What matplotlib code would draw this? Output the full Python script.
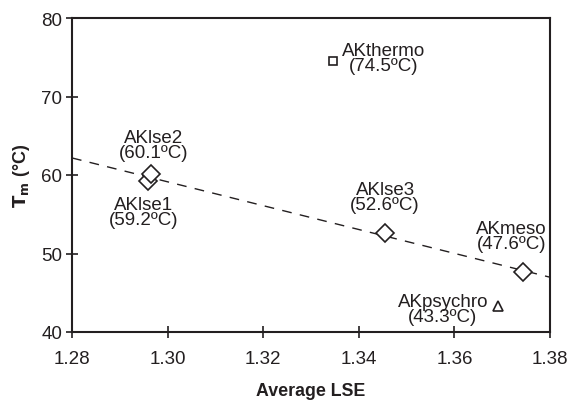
import numpy as np
from matplotlib import pyplot as plt

# enzyme variants: average LSE vs melting temperature
names = ["AKlse1", "AKlse2", "AKlse3", "AKmeso", "AKthermo", "AKpsychro"]
lse = [1.2958, 1.2965, 1.3455, 1.3743, 1.3347, 1.3692]
tm = [59.2, 60.1, 52.6, 47.6, 74.5, 43.3]
tm_labels = ["59.2", "60.1", "52.6", "47.6", "74.5", "43.3"]
markers = ["D", "D", "D", "D", "s", "^"]
fit_idx = [0, 1, 2, 3]  # diamonds used for the trend line

dark = "#231f20"
plt.rcParams['font.family'] = ['Liberation Sans', 'DejaVu Sans']
plt.rcParams['figure.dpi'] = 100

fig = plt.figure(figsize=(5.71, 4.02))
ax = fig.add_axes([72 / 571, 1 - 333 / 402, 478 / 571, 314 / 402])

msizes = {"D": 9.5, "s": 6, "^": 7.5}
for i in range(len(names)):
    ax.plot(lse[i], tm[i], linestyle="none", marker=markers[i], markersize=msizes[markers[i]],
            markerfacecolor="white", markeredgecolor=dark, markeredgewidth=1.2, zorder=3)

# linear fit through the diamond points
fx = np.array([lse[i] for i in fit_idx])
fy = np.array([tm[i] for i in fit_idx])
slope, icpt = np.polyfit(fx, fy, 1)
xs = np.array([1.28, 1.38])
ax.plot(xs, slope * xs + icpt, color=dark, linestyle=(0, (7, 6)), linewidth=1.0, zorder=2)

fs = 13.5
# annotation offsets in points: (dx, dy, ha)
offsets = {
    "AKlse1": (-3, -22, "center"),
    "AKlse2": (2, 21, "center"),
    "AKlse3": (0, 26, "center"),
    "AKmeso": (-8, 26, "center"),
    "AKthermo": (6, 2, "left"),
    "AKpsychro": (-40, -2, "center"),
}
for i, n in enumerate(names):
    dx, dy, ha = offsets[n]
    ax.annotate(n + "\n(" + tm_labels[i] + "ºC)", (lse[i], tm[i]),
                xytext=(dx, dy), textcoords="offset points",
                ha=ha, va="center", multialignment="center",
                fontsize=fs, color=dark, linespacing=0.85)

ax.set_xlim(1.28, 1.38)
ax.set_ylim(40, 80)
ax.set_xticks([1.28, 1.30, 1.32, 1.34, 1.36, 1.38])
ax.set_xticklabels(["1.28", "1.30", "1.32", "1.34", "1.36", "1.38"])
ax.set_yticks([40, 50, 60, 70, 80])
ax.tick_params(direction="inout", length=8, width=1.2, colors=dark, labelsize=13.5, pad=3)
ax.tick_params(axis="x", pad=9)
for s in ax.spines.values():
    s.set_linewidth(1.5)
    s.set_color(dark)

ax.set_xlabel("Average LSE", fontsize=12.8, fontweight="bold", color=dark, labelpad=11)
ax.set_ylabel(r"$\mathbf{T_m}$ (°C)", fontsize=13, fontweight="bold", color=dark, labelpad=7)

plt.savefig("out.png", dpi=100)
